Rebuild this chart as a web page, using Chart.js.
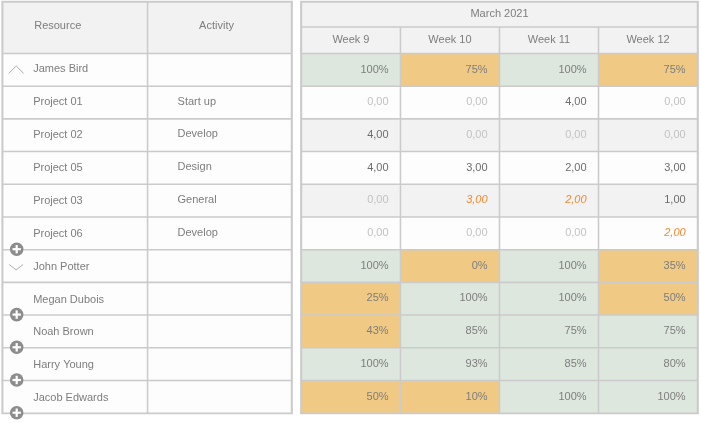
<!DOCTYPE html>
<html>
<head>
<meta charset="utf-8">
<style>
  html, body { margin: 0; padding: 0; background: #ffffff; }
  canvas { display: block; }
</style>
<script src="https://cdn.jsdelivr.net/npm/chart.js@4/dist/chart.umd.min.js"></script>
</head>
<body>
<canvas id="chart" width="701" height="423"></canvas>
<script>
const monthLabel = 'March 2021';
const leftHeaders = ['Resource', 'Activity'];
const weeks = ['Week 9', 'Week 10', 'Week 11', 'Week 12'];

const resources = ['James Bird', 'Project 01', 'Project 02', 'Project 05', 'Project 03', 'Project 06',
  'John Potter', 'Megan Dubois', 'Noah Brown', 'Harry Young', 'Jacob Edwards'];
const activities = ['', 'Start up', 'Develop', 'Design', 'General', 'Develop', '', '', '', '', ''];

// percent rows are the resource totals, the others are hours per project
const percentRows = [0, 6, 7, 8, 9, 10];
const expandedRows = [5, 7, 8, 9, 10];

const week9 = [100, 0, 4, 4, 0, 0, 100, 25, 43, 100, 50];
const week10 = [75, 0, 0, 3, 3, 0, 0, 100, 85, 93, 10];
const week11 = [100, 4, 0, 2, 2, 0, 100, 100, 75, 85, 100];
const week12 = [75, 0, 0, 3, 1, 2, 35, 50, 75, 80, 100];

// rows that are flagged: orange cell on totals, orange italic on hours
const week9Flagged = [7, 8, 10];
const week10Flagged = [0, 4, 6, 10];
const week11Flagged = [4];
const week12Flagged = [0, 5, 6, 7];

const weekValues = [week9, week10, week11, week12];
const weekFlagged = [week9Flagged, week10Flagged, week11Flagged, week12Flagged];

const COLORS = {
  line: '#cbcbcb',
  header: '#f2f2f2',
  white: '#fdfdfd',
  stripe: '#f2f2f2',
  green: '#dde7de',
  orange: '#f0ca85',
  text: '#7d7d7d',
  hours: '#6c6c6c',
  zero: '#c2c2c2',
  flag: '#f08a34',
  icon: '#8c8c8c'
};
const FONT = '11px "Liberation Sans", Arial, sans-serif';

// x axis: one unit is one week column, left columns sit on the negative side
const RESOURCE_X = -3.017;
const ACTIVITY_X = -1.554;
const LEFT_END_X = -0.1;
const HEADER_TOP = -1.575;
const ROW_H = 32.7;

function cellSet(cells, thickness, order) {
  return {
    data: cells.map(c => ({ x: [c.from, c.to], y: c.y })),
    backgroundColor: cells.map(c => c.color),
    borderColor: COLORS.line,
    borderWidth: order ? 0 : 1.1,
    borderSkipped: false,
    barThickness: thickness,
    grouped: false,
    order: order || 0
  };
}

function weekCell(week, row) {
  const isPercent = percentRows.includes(row);
  let color = row % 2 === 1 ? COLORS.white : COLORS.stripe;
  if (isPercent) color = weekFlagged[week].includes(row) ? COLORS.orange : COLORS.green;
  return { from: week, to: week + 1, y: row + 0.5, color: color };
}

const datasets = [
  cellSet(resources.map((r, i) => ({ from: RESOURCE_X, to: ACTIVITY_X, y: i + 0.5, color: COLORS.white })), ROW_H),
  cellSet(activities.map((a, i) => ({ from: ACTIVITY_X, to: LEFT_END_X, y: i + 0.5, color: COLORS.white })), ROW_H),
  cellSet([
    { from: RESOURCE_X, to: ACTIVITY_X, y: HEADER_TOP / 2, color: COLORS.header },
    { from: ACTIVITY_X, to: LEFT_END_X, y: HEADER_TOP / 2, color: COLORS.header }
  ], 51.5),
  cellSet([{ from: 0, to: weeks.length, y: -1.1925, color: COLORS.header }], 25),
  cellSet(weeks.map((w, i) => ({ from: i, to: i + 1, y: -0.405, color: COLORS.header })), 26.5)
];
weekValues.forEach((values, w) => {
  datasets.push(cellSet(values.map((v, row) => weekCell(w, row)), ROW_H));
});
// outer frame behind the cells, thickens the outside line
datasets.push(cellSet([
  { from: RESOURCE_X - 0.01, to: LEFT_END_X + 0.01, y: (HEADER_TOP + resources.length) / 2, color: COLORS.line },
  { from: -0.01, to: weeks.length + 0.01, y: (HEADER_TOP + resources.length) / 2, color: COLORS.line }
], 413.4, 1));

function drawText(ctx, text, x, y, align, color, italic) {
  ctx.font = (italic ? 'italic ' : '') + FONT;
  ctx.textAlign = align;
  ctx.textBaseline = 'middle';
  ctx.fillStyle = color;
  ctx.fillText(text, x, y);
}

const tableText = {
  id: 'tableText',
  afterDraw(chart) {
    const ctx = chart.ctx;
    const xs = chart.scales.x;
    const ys = chart.scales.y;
    ctx.save();

    // header
    const headY = ys.getPixelForValue(HEADER_TOP / 2) - 1.5;
    drawText(ctx, leftHeaders[0], xs.getPixelForValue(RESOURCE_X) + 31.5, headY, 'left', COLORS.text);
    drawText(ctx, leftHeaders[1], xs.getPixelForValue((ACTIVITY_X + LEFT_END_X) / 2) - 3, headY, 'center', COLORS.text);
    drawText(ctx, monthLabel, xs.getPixelForValue(weeks.length / 2), ys.getPixelForValue(-1.1925) - 1, 'center', COLORS.text);
    weeks.forEach((w, i) => {
      drawText(ctx, w, xs.getPixelForValue(i + 0.5), ys.getPixelForValue(-0.405) - 0.5, 'center', COLORS.text);
    });

    // left columns
    resources.forEach((r, i) => {
      const y = ys.getPixelForValue(i + 0.5);
      drawText(ctx, r, xs.getPixelForValue(RESOURCE_X) + 30.5, y + (i < 4 ? -0.4 : 0.8), 'left', COLORS.text);
      if (activities[i]) {
        drawText(ctx, activities[i], xs.getPixelForValue(ACTIVITY_X) + 30, y - 0.8, 'left', COLORS.text);
      }
    });

    // week values
    weekValues.forEach((values, w) => {
      values.forEach((v, row) => {
        const x = xs.getPixelForValue(w + 1) - 11.9;
        const y = ys.getPixelForValue(row + 0.5) - 0.3;
        if (percentRows.includes(row)) {
          drawText(ctx, v + '%', x, y, 'right', COLORS.text);
        } else {
          const flagged = weekFlagged[w].includes(row);
          const color = flagged ? COLORS.flag : (v === 0 ? COLORS.zero : COLORS.hours);
          drawText(ctx, v.toFixed(2).replace('.', ','), x, y, 'right', color, flagged);
        }
      });
    });

    // collapse chevrons
    const chevX = xs.getPixelForValue(RESOURCE_X) + 13.5;
    ctx.strokeStyle = '#999999';
    ctx.lineWidth = 0.8;
    ctx.beginPath();
    const upY = ys.getPixelForValue(0.5);
    ctx.moveTo(chevX - 7.5, upY + 3.6);
    ctx.lineTo(chevX, upY - 3.8);
    ctx.lineTo(chevX + 7.5, upY + 3.6);
    const downY = ys.getPixelForValue(6.5);
    ctx.moveTo(chevX - 7, downY - 1.5);
    ctx.lineTo(chevX, downY + 3.8);
    ctx.lineTo(chevX + 7, downY - 1.5);
    ctx.stroke();

    // plus badges on the bottom line of the row
    expandedRows.forEach(row => {
      const cx = xs.getPixelForValue(RESOURCE_X) + 14;
      const cy = ys.getPixelForValue(row + 1) - 0.5;
      ctx.fillStyle = COLORS.icon;
      ctx.beginPath();
      ctx.arc(cx, cy, 6.8, 0, Math.PI * 2);
      ctx.fill();
      ctx.fillStyle = '#ffffff';
      ctx.fillRect(cx - 4.2, cy - 1.1, 8.4, 2.2);
      ctx.fillRect(cx - 1.1, cy - 4.2, 2.2, 8.4);
    });

    ctx.restore();
  }
};

new Chart(document.getElementById('chart'), {
  type: 'bar',
  data: { datasets: datasets },
  plugins: [tableText],
  options: {
    indexAxis: 'y',
    responsive: false,
    animation: false,
    layout: { padding: { left: 1, right: 1.5, top: 0.5, bottom: 8.5 } },
    plugins: {
      legend: { display: false },
      tooltip: { enabled: false }
    },
    scales: {
      x: { type: 'linear', display: false, min: -3.034, max: 4.02 },
      y: { type: 'linear', display: false, reverse: true, offset: false, min: -1.62, max: 11.04 }
    }
  }
});
</script>
</body>
</html>
